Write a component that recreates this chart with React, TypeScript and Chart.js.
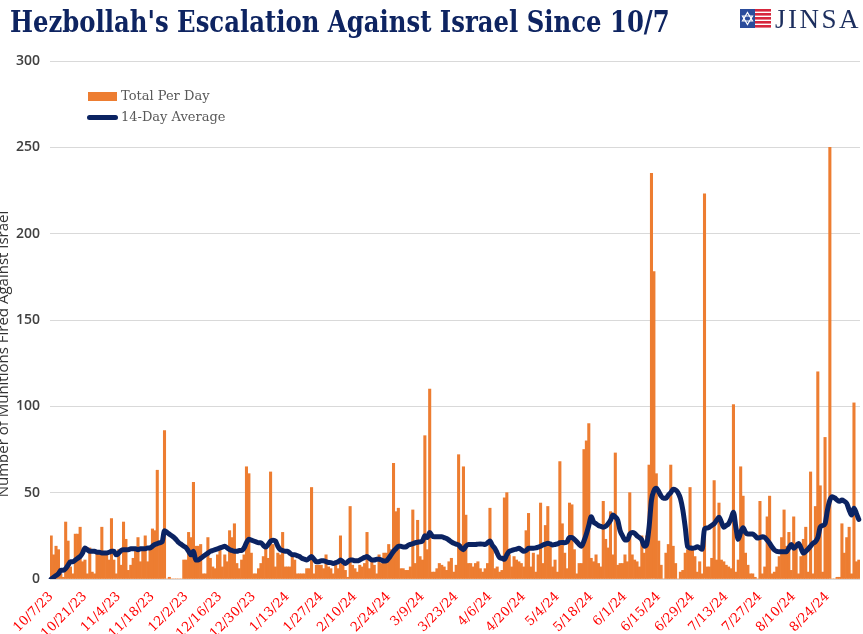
import React, { useEffect, useLayoutEffect, useRef, useState } from "react";
import { Chart, registerables } from "chart.js";

Chart.register(...registerables);

const TITLE = "Hezbollah's Escalation Against Israel Since 10/7";
const Y_TITLE = "Number of Munitions Fired Against Israel";
const SERIES_BAR = "Total Per Day";
const SERIES_LINE = "14-Day Average";
const START_DATE = [2023, 10, 7]; // first day of the series (y, m, d)

const TICK_LABELS = [
  "10/7/23", "10/21/23", "11/4/23", "11/18/23", "12/2/23", "12/16/23", "12/30/23",
  "1/13/24", "1/27/24", "2/10/24", "2/24/24", "3/9/24", "3/23/24", "4/6/24",
  "4/20/24", "5/4/24", "5/18/24", "6/1/24", "6/15/24", "6/29/24", "7/13/24",
  "7/27/24", "8/10/24", "8/24/24",
];

const Y_TICKS = [0, 50, 100, 150, 200, 250, 300];

// daily totals, 10/7/23 .. 9/6/24
const TOTAL_PER_DAY = [
  25, 14, 19, 17, 3, 1, 33, 22, 7, 3,
  26, 26, 30, 10, 11, 3, 18, 4, 3, 16,
  15, 30, 16, 15, 11, 35, 11, 3, 17, 8,
  33, 23, 5, 8, 12, 17, 24, 10, 16, 25,
  10, 18, 29, 28, 63, 21, 21, 86, 0, 1,
  0, 0, 0, 0, 0, 11, 11, 27, 24, 56,
  19, 19, 20, 3, 3, 24, 12, 7, 6, 14,
  19, 7, 14, 10, 28, 24, 32, 9, 6, 11,
  14, 65, 61, 15, 3, 3, 6, 9, 13, 19,
  12, 62, 20, 7, 15, 14, 27, 7, 7, 7,
  14, 11, 3, 3, 3, 3, 6, 6, 53, 3,
  8, 8, 8, 6, 14, 7, 6, 3, 8, 6,
  25, 8, 5, 1, 42, 8, 6, 4, 8, 7,
  9, 27, 6, 10, 8, 3, 14, 9, 15, 15,
  20, 17, 67, 39, 41, 6, 6, 5, 5, 7,
  40, 9, 34, 13, 11, 83, 17, 110, 4, 4,
  6, 9, 8, 7, 5, 10, 12, 4, 8, 72,
  20, 65, 37, 9, 9, 7, 9, 10, 6, 4,
  6, 9, 41, 19, 6, 7, 4, 5, 47, 50,
  14, 7, 13, 11, 10, 9, 7, 28, 38, 7,
  15, 4, 14, 44, 9, 31, 42, 21, 7, 11,
  4, 68, 32, 15, 6, 44, 43, 17, 3, 9,
  9, 75, 80, 90, 12, 10, 14, 9, 7, 45,
  23, 18, 39, 14, 73, 8, 9, 9, 14, 10,
  50, 14, 11, 10, 7, 25, 15, 25, 66, 235,
  178, 61, 22, 8, 0, 15, 20, 66, 19, 9,
  0, 4, 5, 15, 17, 53, 17, 13, 4, 10,
  3, 223, 7, 7, 12, 57, 11, 44, 11, 10,
  8, 7, 6, 101, 4, 11, 65, 48, 15, 8,
  3, 3, 1, 0, 45, 3, 7, 36, 48, 3,
  4, 7, 13, 24, 40, 19, 27, 5, 36, 21,
  3, 13, 23, 30, 4, 62, 3, 42, 120, 54,
  4, 82, 42, 250, 0, 0, 1, 1, 32, 15,
  24, 30, 3, 102, 10, 11,
];

// 14-day average as drawn
const AVG_14 = [
  0, 1, 2, 3, 5, 5, 6, 8, 10, 10,
  11, 12, 13, 15, 18, 17, 16, 16, 16, 15.5,
  15.5, 15, 15, 15, 15.5, 16, 16, 14, 15, 16.5,
  17, 17, 17, 17.5, 17.5, 17.5, 17, 17.5, 17.5, 17.5,
  18, 18, 19, 20, 20.5, 21, 21.5, 28, 27, 26,
  25, 24, 22.5, 21, 20, 19, 18, 16, 14, 16,
  11, 11, 12, 13, 14, 15, 16, 16.5, 17, 17.5,
  18, 18.5, 19, 18, 17, 16.5, 16, 16, 16.5, 16.5,
  18, 21, 23, 22.5, 22, 21.5, 21, 21, 19.5, 18.5,
  20, 22, 22.5, 22, 19, 17, 16.5, 16, 16, 15,
  14, 14, 13.5, 13, 12, 11.5, 11, 12, 13, 11.5,
  10, 10, 10.5, 10.5, 10, 9.6, 9.5, 9, 9.5, 10,
  11, 10, 9, 10, 11, 11, 10.5, 10.5, 11, 11.8,
  12.5, 13, 12, 11, 11, 11.4, 11.4, 11, 10.4, 10.5,
  12, 14, 16, 17.5, 19, 19, 18.5, 18.5, 19.5, 20,
  20.5, 21, 21.3, 21.5, 22, 25, 24, 27, 25, 24.5,
  24.5, 24.5, 24.5, 24, 23.5, 22.5, 21.5, 20.7, 20.2, 19.7,
  18, 17, 19, 20, 20, 20, 20, 20.2, 20.3, 20.2,
  20, 21, 22, 19.5, 17.8, 15, 12.4, 12, 11.4, 14,
  16, 16.5, 17, 17.3, 17.8, 17, 16, 16.5, 17.8, 17.8,
  17.8, 18, 18.5, 19, 19.7, 20.2, 20.7, 20.3, 19.7, 20,
  20.3, 21, 21.2, 21, 21.6, 24, 24, 23, 21.6, 20,
  19, 22, 26, 31, 36, 33, 32, 31, 30.5, 30,
  30.5, 32, 34, 37, 36, 34, 28, 25, 22.6, 22.6,
  26, 27, 26.5, 25, 24, 22.6, 19, 20, 30, 45.7,
  51, 52.5, 50.6, 48, 46.7, 46.7, 48.6, 50, 52, 51.5,
  50, 46.7, 40, 30, 18.7, 18, 17.8, 18, 18.7, 18,
  17.2, 29, 29.5, 30, 31, 32, 34, 35.7, 33, 30,
  31, 32, 35, 38.6, 30, 23, 27, 29.7, 27, 26,
  26, 26, 25, 23.7, 24, 24.5, 24, 22.5, 20.7, 18.5,
  16.8, 16, 15.8, 15.8, 15.8, 15.8, 18, 20, 17.8, 19,
  20.5, 18, 15, 16, 17.4, 19, 20.7, 21.6, 24, 30,
  31, 32, 40, 45.7, 47.7, 47, 45.7, 45, 45.7, 45,
  43.8, 40, 37, 41, 38, 34.5,
];

const ORANGE = "#ED7D31";
const NAVY = "#0B2362";
const TITLE_NAVY = "#0E2461";

function buildDayLabels(n: number): string[] {
  const out: string[] = [];
  for (let i = 0; i < n; i++) {
    const dt = new Date(Date.UTC(START_DATE[0], START_DATE[1] - 1, START_DATE[2] + i));
    out.push(`${dt.getUTCMonth() + 1}/${dt.getUTCDate()}/${String(dt.getUTCFullYear()).slice(2)}`);
  }
  return out;
}

export default function App() {
  const canvasRef = useRef<HTMLCanvasElement>(null);
  const titleRef = useRef<HTMLSpanElement>(null);
  const [titleScale, setTitleScale] = useState(1);

  useLayoutEffect(() => {
    document.body.style.margin = "0";
    if (titleRef.current) {
      const w = titleRef.current.offsetWidth;
      if (w > 0) setTitleScale(660 / w);
    }
  }, []);

  useEffect(() => {
    const labels = buildDayLabels(TOTAL_PER_DAY.length);
    const tickSet = new Set(TICK_LABELS);
    const yTitlePlugin = {
      id: "yTitle",
      afterDraw(chart: any) {
        const ctx = chart.ctx as CanvasRenderingContext2D;
        ctx.save();
        ctx.translate(8, 354);
        ctx.rotate(-Math.PI / 2);
        ctx.font = '15px "Open Sans"';
        ctx.fillStyle = "#333333";
        ctx.textAlign = "center";
        ctx.textBaseline = "alphabetic";
        ctx.fillText(Y_TITLE, 0, 0);
        ctx.restore();
      },
    };
    const chart = new Chart(canvasRef.current as HTMLCanvasElement, {
      type: "bar",
      data: {
        labels,
        datasets: [
          {
            type: "line",
            label: SERIES_LINE,
            data: AVG_14,
            borderColor: NAVY,
            borderWidth: 5,
            pointRadius: 0,
            cubicInterpolationMode: "monotone",
            borderCapStyle: "round",
            borderJoinStyle: "round",
            order: 0,
          } as any,
          {
            type: "bar",
            label: SERIES_BAR,
            data: TOTAL_PER_DAY,
            backgroundColor: ORANGE,
            barPercentage: 1,
            categoryPercentage: 1,
            order: 1,
          } as any,
        ],
      },
      options: {
        responsive: false,
        animation: false,
        layout: { padding: { top: 61, right: 3, left: 0, bottom: 0 } },
        plugins: {
          legend: { display: false },
          tooltip: { enabled: false },
          title: { display: false },
        },
        scales: {
          x: {
            grid: { display: false },
            border: { display: false },
            ticks: {
              autoSkip: false,
              minRotation: 45,
              maxRotation: 45,
              padding: 2,
              color: "#FF0000",
              font: { family: "DejaVu Serif", size: 13 },
              callback: (_v: any, i: number) => (tickSet.has(labels[i]) ? labels[i] : null),
            },
            afterFit: (s: any) => {
              s.height = 55;
            },
          },
          y: {
            min: Y_TICKS[0],
            max: Y_TICKS[Y_TICKS.length - 1],
            ticks: {
              stepSize: Y_TICKS[1] - Y_TICKS[0],
              padding: 10,
              color: "#404040",
              font: { family: "Open Sans", size: 14, weight: "600" },
            },
            grid: { color: "#D9D9D9", drawTicks: false, lineWidth: 1 },
            border: { display: false },
            afterFit: (s: any) => {
              s.width = 50;
            },
          },
        },
      } as any,
      plugins: [yTitlePlugin],
    });
    return () => chart.destroy();
  }, []);

  return (
    <div style={{ position: "fixed", left: 0, top: 0, width: 863, height: 634, background: "#fff", overflow: "hidden" }}>
      <canvas ref={canvasRef} width={863} height={634} style={{ display: "block", position: "absolute", left: 0, top: 0 }} />
      <div
        style={{
          position: "absolute",
          left: 10,
          top: 4,
          transformOrigin: "left top",
          transform: `scaleX(${titleScale})`,
          whiteSpace: "nowrap",
          pointerEvents: "none",
        }}
      >
        <span
          ref={titleRef}
          style={{
            fontFamily: '"DejaVu Serif"',
            fontWeight: 700,
            fontStretch: "condensed",
            fontSize: 30,
            lineHeight: "36px",
            color: TITLE_NAVY,
          }}
        >
          {TITLE}
        </span>
      </div>
      <svg style={{ position: "absolute", left: 740, top: 9 }} width={31} height={19} viewBox="0 0 31 19">
        <rect x={0} y={0} width={31} height={19} fill="#fff" />
        {[0, 4, 8, 12, 16].map((y) => (
          <rect key={y} x={14} y={y} width={17} height={2.6} fill="#D7263D" />
        ))}
        <rect x={0} y={0} width={15} height={19} fill="#2B4C9B" />
        <polygon points="7.5,3.5 12.5,12 2.5,12" fill="none" stroke="#fff" strokeWidth={1.2} />
        <polygon points="7.5,15.5 12.5,7 2.5,7" fill="none" stroke="#fff" strokeWidth={1.2} />
      </svg>
      <div
        style={{
          position: "absolute",
          left: 775,
          top: 4,
          fontFamily: '"Liberation Serif"',
          fontSize: 27,
          letterSpacing: 2.5,
          color: "#1C2E5E",
          lineHeight: "30px",
          pointerEvents: "none",
        }}
      >
        JINSA
      </div>
      <div style={{ position: "absolute", left: 88, top: 92, width: 29, height: 9, background: ORANGE }} />
      <div
        style={{
          position: "absolute",
          left: 121,
          top: 87,
          fontFamily: '"DejaVu Serif"',
          fontSize: 13,
          lineHeight: "18px",
          color: "#595959",
          whiteSpace: "nowrap",
        }}
      >
        {SERIES_BAR}
      </div>
      <div style={{ position: "absolute", left: 87, top: 115, width: 31, height: 4.5, borderRadius: 3, background: NAVY }} />
      <div
        style={{
          position: "absolute",
          left: 121,
          top: 108,
          fontFamily: '"DejaVu Serif"',
          fontSize: 13,
          lineHeight: "18px",
          color: "#595959",
          whiteSpace: "nowrap",
        }}
      >
        {SERIES_LINE}
      </div>
    </div>
  );
}
